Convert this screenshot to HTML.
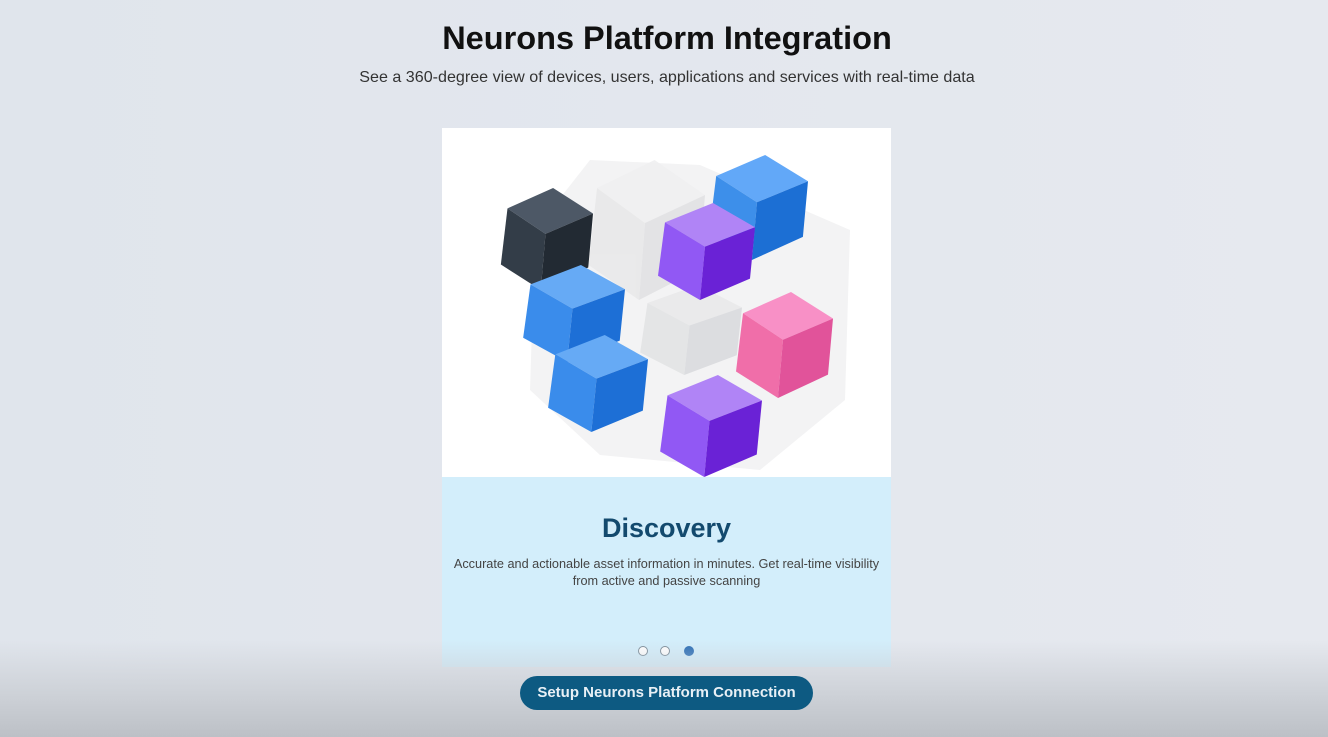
<!DOCTYPE html>
<html><head><style>
body{margin:0;width:1328px;height:737px;overflow:hidden;background:linear-gradient(90deg,#e0e5ec,#e3e7ee 50%,#e6e9ef);font-family:"Liberation Sans",sans-serif;position:relative}
h1{position:absolute;top:20px;left:0;width:1334px;text-align:center;margin:0;font-size:32.5px;font-weight:bold;color:#111;letter-spacing:0px}
.sub{position:absolute;top:68px;left:0;width:1334px;text-align:center;font-size:16.1px;color:#333}
.card{position:absolute;left:442px;top:128px;width:449px;height:539px;background:#d3eefb}
.img{position:absolute;left:0;top:0;width:449px;height:349px;background:#fff}
.t{position:absolute;top:385px;width:100%;text-align:center;font-size:27px;font-weight:bold;color:#134a6e}
.d{position:absolute;top:428px;left:0;width:100%;text-align:center;font-size:12.7px;line-height:17px;color:#444}
.dot{position:absolute;top:518px;width:8px;height:8px;border-radius:50%;border:1px solid #7a8a96;background:#fff}
.shade{position:absolute;left:0;top:640px;width:1328px;height:97px;background:linear-gradient(#e0e4ea00,#ccd0d6 60%,#bcc0c6)}
.btn{position:absolute;left:520px;top:676px;width:293px;height:34px;border-radius:17px;background:#0d5a82;color:#e8f0f6;font-size:15px;font-weight:bold;text-align:center;line-height:34px}
</style></head><body>
<h1>Neurons Platform Integration</h1>
<div class="sub">See a 360-degree view of devices, users, applications and services with real-time data</div>
<div class="card">
<div class="img">
<svg width="449" height="349" viewBox="442 128 449 349">
<polygon points="590,160 700,165 850,230 845,400 760,470 600,455 530,390 535,230" fill="#f3f3f4"/>
<g transform="translate(585,160) scale(1.2,1.4)" opacity="0.9"><polygon points="10,20 58,0 100,25 50,45" fill="#f0f0f1"/><polygon points="10,20 50,45 45,100 3,75" fill="#e9e9ea"/><polygon points="50,45 100,25 95,78 45,100" fill="#e2e2e4"/></g>
<g transform="translate(637,285) scale(1.05,0.9)"><polygon points="10,20 58,0 100,25 50,45" fill="#eaeaeb"/><polygon points="10,20 50,45 45,100 3,75" fill="#e4e5e6"/><polygon points="50,45 100,25 95,78 45,100" fill="#dcdde0"/></g>
<g transform="translate(706,155) scale(1.02,1.05)"><polygon points="10,20 58,0 100,25 50,45" fill="#62a8f8"/><polygon points="10,20 50,45 45,100 3,75" fill="#3d8fea"/><polygon points="50,45 100,25 95,78 45,100" fill="#1c6fd4"/></g>
<g transform="translate(498,188) scale(0.95,1.02)"><polygon points="10,20 58,0 100,25 50,45" fill="#4d5866"/><polygon points="10,20 50,45 45,100 3,75" fill="#333d48"/><polygon points="50,45 100,25 95,78 45,100" fill="#222a33"/></g>
<g transform="translate(520,265) scale(1.05,0.97)"><polygon points="10,20 58,0 100,25 50,45" fill="#66aaf5"/><polygon points="10,20 50,45 45,100 3,75" fill="#3a8ceb"/><polygon points="50,45 100,25 95,78 45,100" fill="#1d6fd6"/></g>
<g transform="translate(545,335) scale(1.03,0.97)"><polygon points="10,20 58,0 100,25 50,45" fill="#66aaf5"/><polygon points="10,20 50,45 45,100 3,75" fill="#3a8ceb"/><polygon points="50,45 100,25 95,78 45,100" fill="#1d6fd6"/></g>
<g transform="translate(655,203) scale(1.0,0.97)"><polygon points="10,20 58,0 100,25 50,45" fill="#b084f6"/><polygon points="10,20 50,45 45,100 3,75" fill="#9158f4"/><polygon points="50,45 100,25 95,78 45,100" fill="#6a22d6"/></g>
<g transform="translate(733,292) scale(1.0,1.06)"><polygon points="10,20 58,0 100,25 50,45" fill="#f890c6"/><polygon points="10,20 50,45 45,100 3,75" fill="#f06ea9"/><polygon points="50,45 100,25 95,78 45,100" fill="#e1539a"/></g>
<g transform="translate(657,375) scale(1.05,1.02)"><polygon points="10,20 58,0 100,25 50,45" fill="#b084f6"/><polygon points="10,20 50,45 45,100 3,75" fill="#9158f4"/><polygon points="50,45 100,25 95,78 45,100" fill="#6a22d6"/></g>
</svg>
</div>
<div class="t">Discovery</div>
<div class="d">Accurate and actionable asset information in minutes. Get real-time visibility<br>from active and passive scanning</div>
<div class="dot" style="left:196px"></div>
<div class="dot" style="left:218px"></div>
<div class="dot" style="left:242px;background:#2a6db5;border-color:#2a6db5"></div>
</div>
<div class="shade"></div>
<div class="btn">Setup Neurons Platform Connection</div>
</body></html>
